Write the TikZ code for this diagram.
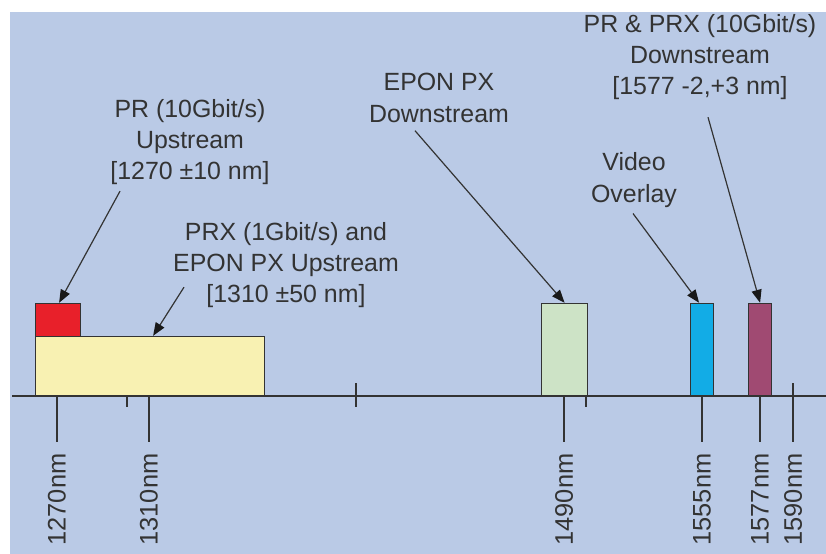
\documentclass[tikz,border=0pt]{standalone}
\usepackage{fontspec}
\setmainfont{Liberation Sans}
\usetikzlibrary{arrows.meta}
\definecolor{bgblue}{HTML}{BACAE6}
\definecolor{bandred}{HTML}{E8202A}
\definecolor{bandyellow}{HTML}{F8F1B2}
\definecolor{bandgreen}{HTML}{CDE3C6}
\definecolor{bandblue}{HTML}{12ACE6}
\definecolor{bandpurple}{HTML}{A04A72}
\definecolor{ink}{HTML}{333333}
\begin{document}
\begin{tikzpicture}[x=1bp,y=-1bp,
  lbl/.style={align=center,inner sep=0pt,text=ink,font=\fontsize{25}{31.5}\selectfont},
  ticklbl/.style={rotate=90,anchor=east,inner sep=0pt,text=ink,font=\fontsize{25.5}{31}\selectfont},
  band/.style={draw=ink,line width=1.2bp,inner sep=0pt,anchor=south west},
  arr/.style={draw=ink,line width=1.2bp,-{Triangle[length=13bp,width=10bp,color=black!90]}},
  axis/.style={draw=ink,line width=1.2bp}]
\useasboundingbox (0,0) rectangle (826,554);
\fill[bgblue] (10,12) rectangle (826,554);
\node[band,fill=bandyellow,minimum width=229bp,minimum height=59bp] (prx) at (35,396) {};
\node[band,fill=bandred,minimum width=45bp,minimum height=33bp] (pr) at (35,337) {};
\node[band,fill=bandgreen,minimum width=46bp,minimum height=92bp] (epon) at (541,396) {};
\node[band,fill=bandblue,minimum width=23bp,minimum height=92bp] (video) at (690,396) {};
\node[band,fill=bandpurple,minimum width=23bp,minimum height=92bp] (down) at (748,396) {};
\draw[axis] (12,396) -- (826,396);
\foreach \x/\t in {57/1270,149/1310,564/1490,702/1555,760/1577}
  \draw[axis] (\x,396) -- (\x,442) node[ticklbl] (tick\t) at (\x,453) {\t nm};
\draw[axis] (793,383) -- (793,442) node[ticklbl] (tick1590) at (793,453) {1590nm};
\draw[axis] (127,396) -- (127,407);
\draw[axis] (356,383) -- (356,407);
\draw[axis] (586,396) -- (586,407);
\node[lbl] (prlbl) at (190,142) {PR (10Gbit/s)\\Upstream\\{[}1270 ±10 nm{]}};
\node[lbl] (prxlbl) at (286,265) {PRX (1Gbit/s) and\\EPON PX Upstream\\{[}1310 ±50 nm{]}};
\node[lbl] (eponlbl) at (439,98) {EPON PX\\Downstream};
\node[lbl] (videolbl) at (634,180) {Video\\Overlay};
\node[lbl] (downlbl) at (700,57) {PR \& PRX (10Gbit/s)\\Downstream\\{[}1577 -2,+3 nm{]}};
\draw[arr] ([xshift=-70bp,yshift=-6bp]prlbl.south) -- ([xshift=1bp]pr.north);
\draw[arr] ([xshift=11bp,yshift=21bp]prxlbl.south west) -- ([xshift=3bp]prx.north);
\draw[arr] ([xshift=-24bp,yshift=-8bp]eponlbl.south) -- (epon.north);
\draw[arr] ([xshift=-1bp,yshift=-6bp]videolbl.south) -- ([xshift=-3bp]video.north);
\draw[arr] ([xshift=8bp,yshift=-17bp]downlbl.south) -- (down.north);
\end{tikzpicture}
\end{document}
